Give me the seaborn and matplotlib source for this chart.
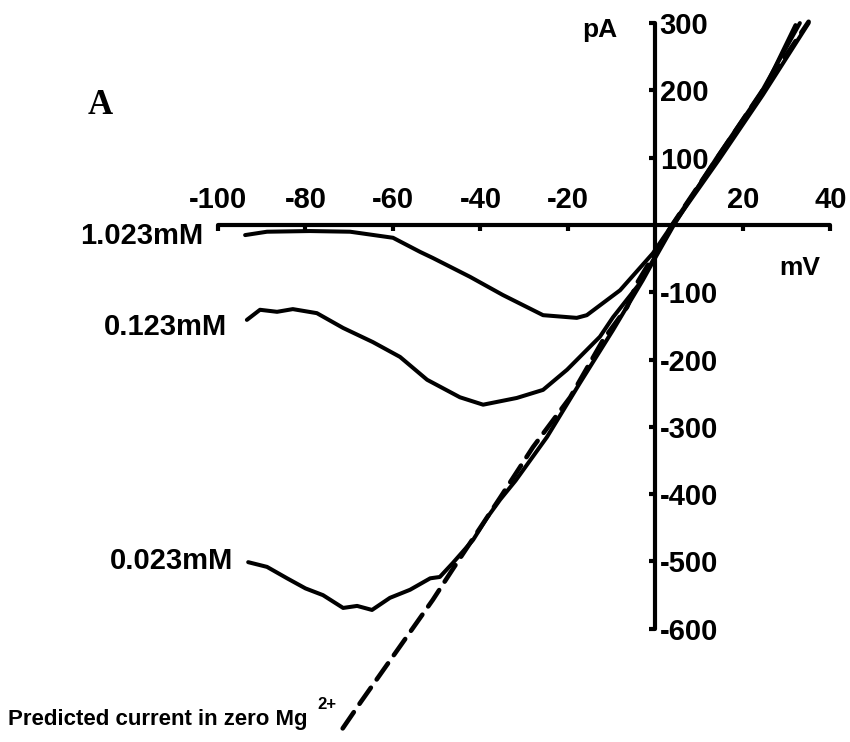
import matplotlib
matplotlib.use("Agg")
import matplotlib.pyplot as plt
import seaborn as sns
import pandas as pd

# Current-voltage traces (mV, pA) at three external Mg2+ concentrations
v_1023 = [-93.8, -88.8, -79.0, -69.8, -60.0, -53.8, -50.9, -42.4, -34.9, -25.7,
          -18.0, -15.7, -8.1, -0.6, 3.8, 14.0, 24.0, 32.0]
i_1023 = [-15, -10, -9, -10, -19, -40, -49, -77, -104, -134,
          -138, -134, -97, -42, 0, 97, 190, 297]

v_0123 = [-93.4, -90.4, -86.5, -82.9, -77.4, -71.4, -64.6, -58.4, -52.2, -44.7,
          -39.4, -31.7, -25.7, -20.2, -12.7, -9.7, -3.5, 4.0, 14.5, 24.5, 35.0]
i_0123 = [-141, -126, -129, -125, -131, -153, -174, -196, -230, -256,
          -267, -257, -245, -215, -166, -137, -86, 0, 97, 193, 300]

v_0023 = [-93.1, -88.8, -84.2, -80.0, -76.0, -71.4, -68.2, -64.8, -60.7, -56.1,
          -51.5, -49.3, -46.3, -41.7, -38.5, -35.5, -32.0, -24.8, -17.3, -9.7,
          -2.9, -0.6, 4.2, 14.0, 24.0, 33.0]
i_0023 = [-501, -508, -525, -540, -550, -569, -566, -572, -554, -542,
          -525, -523, -502, -468, -435, -408, -380, -315, -235, -156,
          -82, -55, 0, 100, 195, 300]

# Predicted current in zero Mg2+
v_pred = [-71.5, -67.5, -50.9, -46.5, -35.5, -28.0, -19.5, -12.0, -6.5, -4.2,
          3.8, 35.0]
i_pred = [-748, -710, -557, -513, -405, -330, -256, -171, -122, -86,
          0, 302]

conc_labels = ["1.023mM", "0.123mM", "0.023mM"]
x_ticks = [-100, -80, -60, -40, -20, 20, 40]
y_ticks = [-600, -500, -400, -300, -200, -100, 100, 200, 300]

sns.set_theme(style="white")
plt.rcParams["font.family"] = ["Liberation Sans", "DejaVu Sans"]
plt.rcParams["font.weight"] = "bold"

fig = plt.figure(figsize=(8.5, 7.42), dpi=100)
ax = fig.add_axes([0, 0, 1, 1])
ax.patch.set_alpha(0)

lw = 2.9
for v, i in [(v_1023, i_1023), (v_0123, i_0123), (v_0023, i_0023)]:
    df = pd.DataFrame({"V": v, "I": i})
    sns.lineplot(data=df, x="V", y="I", sort=False, estimator=None,
                 color="black", lw=lw, ax=ax, solid_capstyle="round")

dfp = pd.DataFrame({"V": v_pred, "I": i_pred})
sns.lineplot(data=dfp, x="V", y="I", sort=False, estimator=None,
             color="black", lw=3.3, ax=ax, dashes=False)
ax.lines[-1].set_dashes([4.3, 2.2])
ax.lines[-1].set_dash_capstyle("round")

ax.set_xlim(-149.83, 44.46)
ax.set_ylim(-768.2, 334.3)

# Axes crossing at the origin
for s in ["left", "bottom"]:
    ax.spines[s].set_visible(False)
ax.spines["top"].set_position(("data", 0))
ax.spines["right"].set_position(("data", 0))
ax.spines["top"].set_bounds(-100, 40)
ax.spines["right"].set_bounds(-600, 300)
for s in ["top", "right"]:
    ax.spines[s].set_linewidth(3)
    ax.spines[s].set_color("black")
    ax.spines[s].set_capstyle("round")

ax.xaxis.set_ticks_position("top")
ax.yaxis.set_ticks_position("right")
ax.set_xticks(x_ticks)
ax.set_yticks(y_ticks)
ax.set_xticklabels([str(t) for t in x_ticks])
ax.set_yticklabels([str(t) for t in y_ticks])
ax.tick_params(axis="x", direction="in", length=4, width=3, pad=8,
               labelsize=21, top=True, bottom=False, labeltop=True,
               labelbottom=False, colors="black")
ax.tick_params(axis="y", direction="in", length=4, width=3, pad=3,
               labelsize=21, right=True, left=False, labelright=True,
               labelleft=False, colors="black")
for lab in ax.get_xticklabels() + ax.get_yticklabels():
    lab.set_fontweight("bold")
ax.set_xlabel("")
ax.set_ylabel("")
ax.grid(False)

# Concentration labels beside the trace starts
label_pos = [(-103.4, -16.3), (-97.9, -151.6), (-96.6, -499)]
for lab, (x, y) in zip(conc_labels, label_pos):
    ax.text(x, y, lab, ha="right", va="center", fontsize=21,
            fontweight="bold", color="black")

ax.text(-148.0, -735, "Predicted current in zero Mg", ha="left", va="center",
        fontsize=16, fontweight="bold", color="black")
ax.text(-77.3, -712, "2+", ha="left", va="center", fontsize=12,
        fontweight="bold", color="black")

ax.text(-12.7, 290, "pA", ha="center", va="center", fontsize=19,
        fontweight="bold", color="black")
ax.text(33.0, -64, "mV", ha="center", va="center", fontsize=19,
        fontweight="bold", color="black")
ax.text(-126.9, 178, "A", ha="center", va="center", fontsize=25,
        fontweight="bold", family="Liberation Serif", color="black")

fig.savefig("out.png", dpi=100)
